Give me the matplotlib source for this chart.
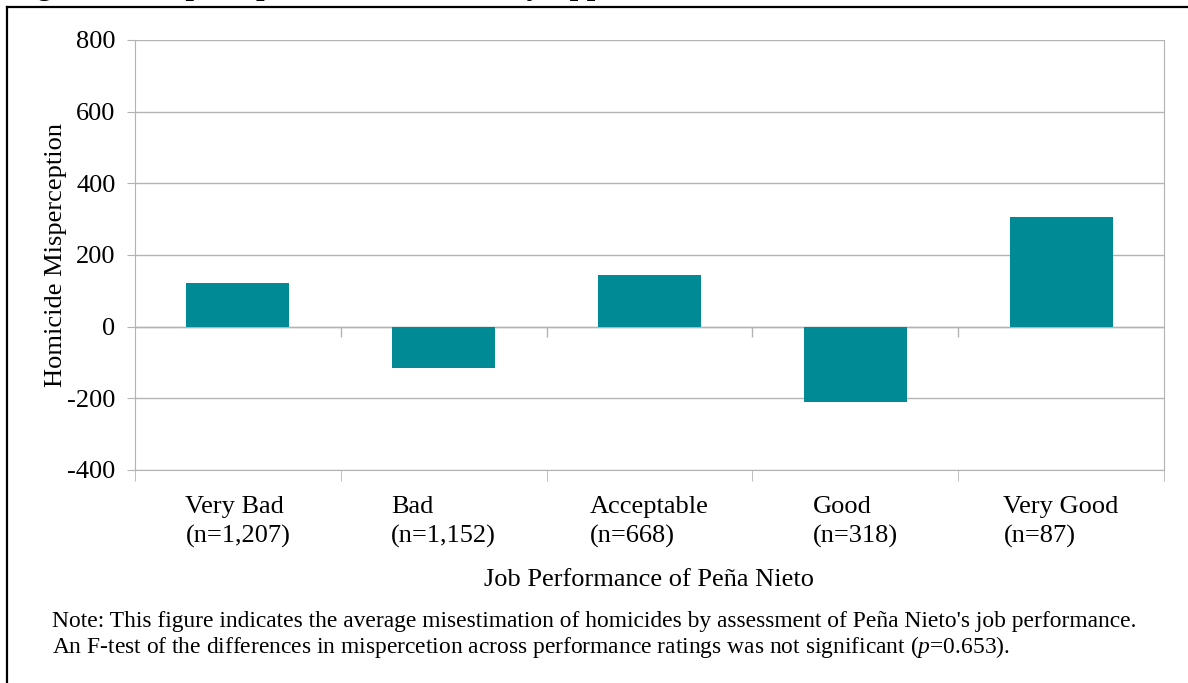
import matplotlib
matplotlib.use("Agg")
import matplotlib.pyplot as plt
from matplotlib.lines import Line2D
import numpy as np

plt.rcParams['font.family'] = ['Liberation Serif', 'DejaVu Serif']
plt.rcParams['mathtext.fontset'] = 'custom'
plt.rcParams['mathtext.rm'] = 'Liberation Serif'
plt.rcParams['mathtext.it'] = 'Liberation Serif:italic'

ratings = ["Very Bad", "Bad", "Acceptable", "Good", "Very Good"]
counts = ["1,207", "1,152", "668", "318", "87"]
misperception = [122, -114, 145, -209, 307]
y_ticks = [-400, -200, 0, 200, 400, 600, 800]

bar_color = "#008a96"
grid_color = "#b3b3b3"

fig = plt.figure(figsize=(11.88, 6.83), dpi=100)
ax = fig.add_axes([135 / 1188, 1 - 470 / 683, (1164 - 135) / 1188, 430 / 683])

x = np.arange(len(ratings))
ax.bar(x, misperception, width=0.5, color=bar_color, zorder=3)

ax.set_ylim(-400, 800)
ax.set_xlim(-0.5, len(ratings) - 0.5)
ax.set_yticks(y_ticks)
ax.set_yticklabels([str(v) for v in y_ticks])
ax.yaxis.grid(True, color=grid_color, lw=1, zorder=0)
ax.tick_params(axis='y', length=6, color=grid_color, labelsize=19, pad=8)

# category labels centered, minor ticks at the category boundaries
ax.set_xticks(x)
ax.set_xticklabels([f"{r}\n(n={c})" for r, c in zip(ratings, counts)],
                   multialignment='left', linespacing=1.35)
ax.set_xticks(np.arange(len(ratings) + 1) - 0.5, minor=True)
ax.tick_params(axis='x', which='major', length=0, labelsize=19, pad=19)
ax.tick_params(axis='x', which='minor', length=8, color=grid_color)

# zero line with its own small ticks
ax.axhline(0, color=grid_color, lw=1, zorder=2)
ax.vlines(np.arange(1, len(ratings)) - 0.5, -30, 0, color=grid_color, lw=1, zorder=2)

for side in ["left", "right", "bottom"]:
    ax.spines[side].set_color(grid_color)
ax.spines["top"].set_visible(False)

ax.set_ylabel("Homicide Misperception", fontsize=19, labelpad=0)
ax.set_xlabel("Job Performance of Peña Nieto", fontsize=19, labelpad=15)

fig.text(52 / 1188, 1 - 622 / 683,
         "Note: This figure indicates the average misestimation of homicides by assessment of Peña Nieto's job performance.",
         fontsize=16.9, va='center', ha='left')
fig.text(52 / 1188, 1 - 647 / 683,
         "An F-test of the differences in mispercetion across performance ratings was not significant ($\\mathit{p}$=0.653).",
         fontsize=16.9, va='center', ha='left')

# caption running off the top of the page
fig.text(10 / 1188, 1 + 6 / 683,
         "Figure 3: Misperception of Homicides by Approval of Peña Nieto",
         fontsize=22, fontweight='bold', va='baseline', ha='left')

# page frame
fig.add_artist(Line2D([7 / 1188, 7 / 1188], [0, 1 - 7 / 683], transform=fig.transFigure,
                      color='black', lw=1.6))
fig.add_artist(Line2D([7 / 1188, 1], [1 - 7 / 683, 1 - 7 / 683], transform=fig.transFigure,
                      color='black', lw=1.6))

fig.savefig("out.png", dpi=100)
